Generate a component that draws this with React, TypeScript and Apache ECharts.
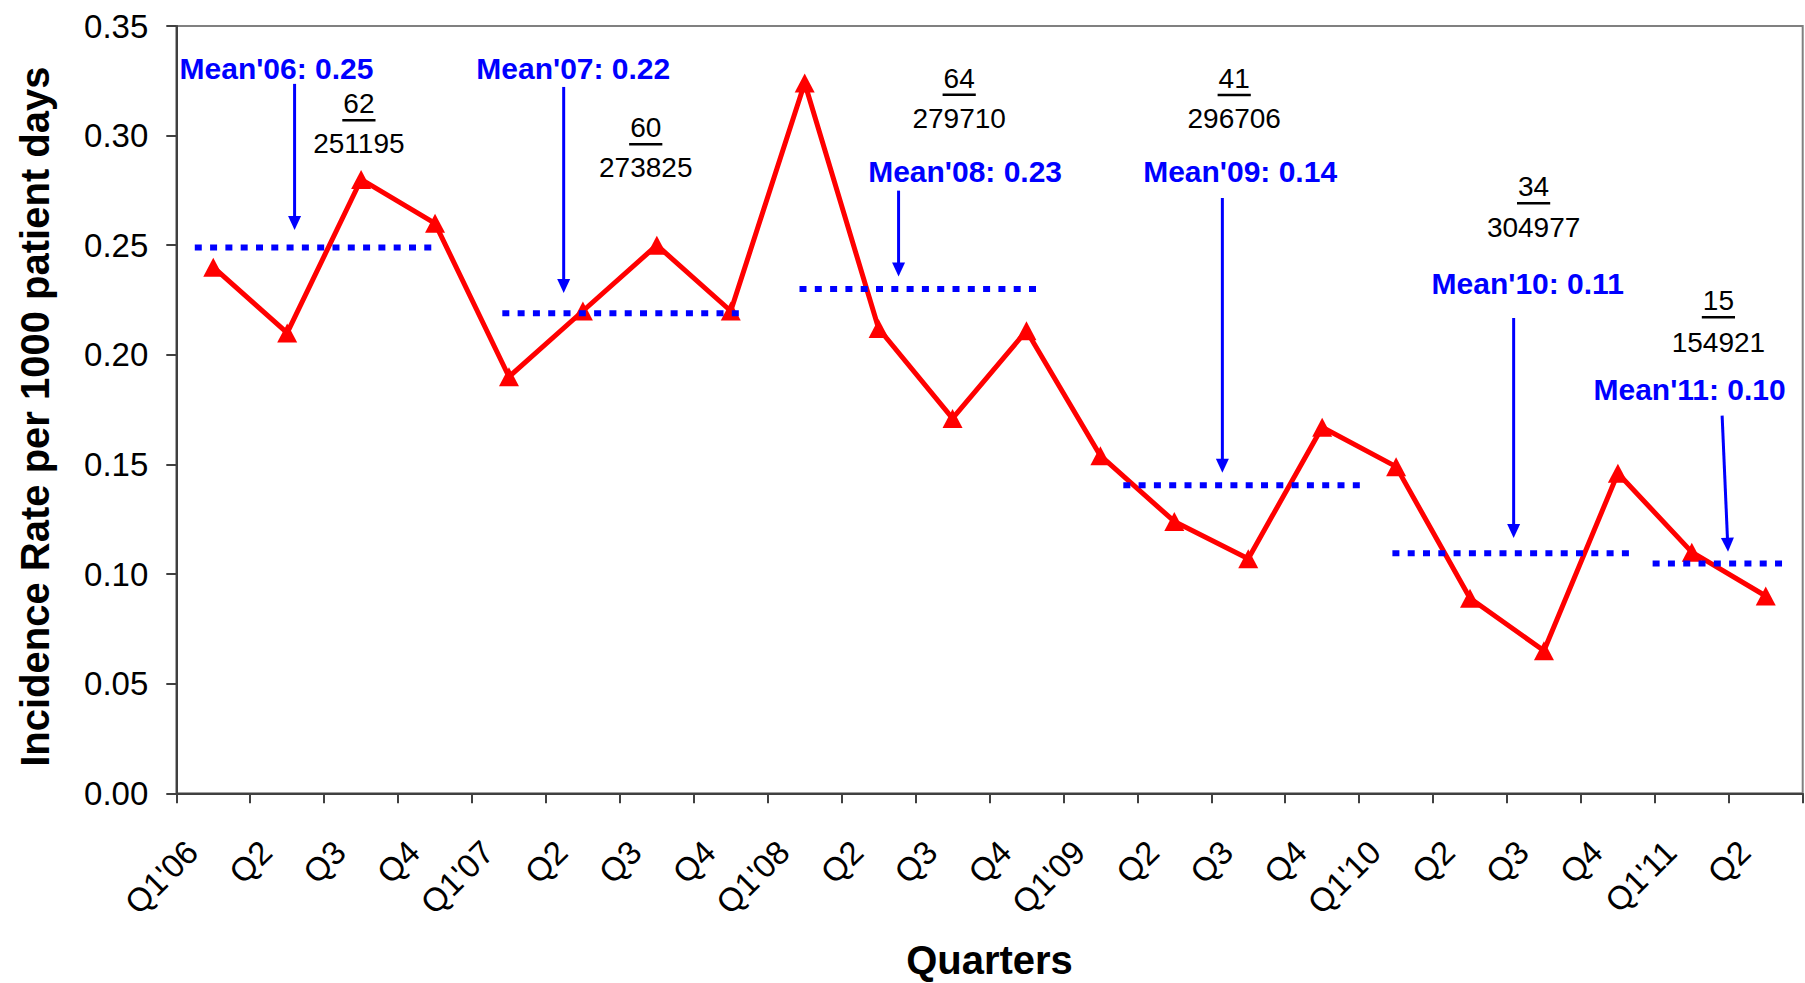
import React, { useEffect, useRef } from "react";
import * as echarts from "echarts";

const categories = ["Q1'06", "Q2", "Q3", "Q4", "Q1'07", "Q2", "Q3", "Q4", "Q1'08", "Q2", "Q3", "Q4", "Q1'09", "Q2", "Q3", "Q4", "Q1'10", "Q2", "Q3", "Q4", "Q1'11", "Q2"];
const rates = [0.24, 0.21, 0.28, 0.26, 0.19, 0.22, 0.25, 0.22, 0.324, 0.212, 0.171, 0.211, 0.154, 0.124, 0.107, 0.167, 0.149, 0.089, 0.065, 0.146, 0.11, 0.09];
const yTicks = [0, 0.05, 0.1, 0.15, 0.2, 0.25, 0.3, 0.35];

// yearly means (line level, shown label value, extent in category-index units)
const meanYears = ["'06", "'07", "'08", "'09", "'10", "'11"];
const meanValues = [0.249, 0.219, 0.23, 0.1405, 0.1095, 0.1048];
const meanShown = ["0.25", "0.22", "0.23", "0.14", "0.11", "0.10"];
const meanStart = [-0.25, 3.91, 7.93, 12.31, 15.95, 19.47];
const meanEnd = [2.99, 7.12, 11.14, 15.52, 19.18, 21.33];

// annotation anchors in data units (x: category index, y: rate)
const meanLabelX = [0.855, 4.87, 10.17, 13.89, 17.78, 19.97];
const meanLabelY = [0.3305, 0.3305, 0.2836, 0.2836, 0.2327, 0.1844];
const arrowX1 = [1.1, 4.74, 9.27, 13.65, 17.59, 20.41];
const arrowY1 = [0.3236, 0.3222, 0.2749, 0.2716, 0.2168, 0.1723];
const arrowX2 = [1.1, 4.74, 9.27, 13.65, 17.59, 20.49];
const arrowY2 = [0.257, 0.2282, 0.2357, 0.1462, 0.1165, 0.1102];

const numerators = [62, 60, 64, 41, 34, 15];
const denominators = [251195, 273825, 279710, 296706, 304977, 154921];
const fracX = [1.97, 5.85, 10.09, 13.81, 17.86, 20.36];
const fracNumY = [0.3145, 0.3036, 0.3262, 0.326, 0.2767, 0.2247];
const fracDenY = [0.2964, 0.2855, 0.3078, 0.3077, 0.2581, 0.2057];

const FONT = '"Liberation Sans", Arial, sans-serif';

export default function App() {
  const ref = useRef<HTMLDivElement>(null);
  useEffect(() => {
    if (!ref.current) return;
    const chart = echarts.init(ref.current, undefined, { renderer: "svg" });
    const meanSeries = meanValues.map((m, i) => ({
      type: "line",
      name: "Mean" + meanYears[i],
      xAxisIndex: 1,
      yAxisIndex: 0,
      data: [
        [meanStart[i], m],
        [meanEnd[i], m],
      ],
      symbol: "none",
      lineStyle: { color: "#0000FF", width: 6, type: [7, 8.3], cap: "butt" },
      silent: true,
      z: 3,
    }));
    chart.setOption({
      animation: false,
      textStyle: { fontFamily: FONT },
      grid: {
        left: 176.3,
        right: 2.3,
        top: 26,
        bottom: 189.7,
        show: true,
        borderColor: "#808080",
        borderWidth: 2,
        containLabel: false,
        outerBoundsMode: "none",
      },
      xAxis: [
        {
          type: "category",
          data: categories,
          boundaryGap: true,
          axisLine: { show: true, onZero: false, lineStyle: { color: "#404040", width: 2 } },
          axisTick: { show: true, length: 10, lineStyle: { color: "#404040", width: 2 } },
          axisLabel: { rotate: 45, fontSize: 33, color: "#000", fontFamily: FONT, margin: 32, padding: [0, 30, 0, 0], interval: 0 },
          splitLine: { show: false },
          name: "Quarters",
          nameLocation: "middle",
          nameGap: 147,
          nameTextStyle: { fontSize: 40, fontWeight: "bold", color: "#000", fontFamily: FONT },
        },
        { type: "value", min: -0.5, max: 21.5, show: false, axisLine: { onZero: false } },
      ],
      yAxis: {
        type: "value",
        min: 0,
        max: 0.35,
        interval: 0.05,
        axisLine: { show: true, onZero: false, lineStyle: { color: "#404040", width: 2 } },
        axisTick: { show: true, length: 10, lineStyle: { color: "#404040", width: 2 } },
        axisLabel: { fontSize: 33, color: "#000", fontFamily: FONT, margin: 28, formatter: (v: number) => (yTicks.some((t) => Math.abs(t - v) < 1e-9) ? v.toFixed(2) : "") },
        splitLine: { show: false },
        name: "Incidence Rate per 1000 patient days",
        nameLocation: "middle",
        nameGap: 121,
        nameTextStyle: { fontSize: 40, fontWeight: "bold", color: "#000", fontFamily: FONT, padding: [0, 14, 0, 0] },
      },
      series: [
        {
          type: "line",
          name: "Rate",
          xAxisIndex: 0,
          yAxisIndex: 0,
          data: rates,
          symbol: "triangle",
          symbolSize: [20, 19],
          itemStyle: { color: "#FF0000" },
          lineStyle: { color: "#FF0000", width: 5 },
          z: 2,
        },
        ...meanSeries,
      ],
    });

    const toPx = (x: number, y: number) => chart.convertToPixel({ seriesIndex: 1 }, [x, y]) as number[];
    const graphics: any[] = [];
    meanYears.forEach((yr, i) => {
      const p = toPx(meanLabelX[i], meanLabelY[i]);
      graphics.push({
        type: "text",
        x: p[0],
        y: p[1],
        z: 10,
        style: { text: "Mean" + yr + ": " + meanShown[i], fill: "#0000FF", font: "bold 30px " + FONT, align: "center", verticalAlign: "middle", textAlign: "center", textVerticalAlign: "middle" },
      });
      const a = toPx(arrowX1[i], arrowY1[i]);
      const b = toPx(arrowX2[i], arrowY2[i]);
      const dx = b[0] - a[0];
      const dy = b[1] - a[1];
      const len = Math.hypot(dx, dy);
      const ux = dx / len;
      const uy = dy / len;
      const L = 14;
      const W = 6.5;
      graphics.push({
        type: "line",
        z: 10,
        shape: { x1: a[0], y1: a[1], x2: b[0] - ux * L * 0.6, y2: b[1] - uy * L * 0.6 },
        style: { stroke: "#0000FF", lineWidth: 3 },
      });
      graphics.push({
        type: "polygon",
        z: 10,
        shape: {
          points: [
            [b[0], b[1]],
            [b[0] - ux * L - uy * W, b[1] - uy * L + ux * W],
            [b[0] - ux * L + uy * W, b[1] - uy * L - ux * W],
          ],
        },
        style: { fill: "#0000FF" },
      });
      const n = toPx(fracX[i], fracNumY[i]);
      const d = toPx(fracX[i], fracDenY[i]);
      const numText = String(numerators[i]);
      graphics.push({
        type: "text",
        x: n[0],
        y: n[1],
        z: 10,
        style: { text: numText, fill: "#000", font: "28px " + FONT, align: "center", verticalAlign: "middle", textAlign: "center", textVerticalAlign: "middle" },
      });
      const uw = numText.length * 15.6 + 2;
      graphics.push({
        type: "line",
        z: 10,
        shape: { x1: n[0] - uw / 2, y1: n[1] + 16.5, x2: n[0] + uw / 2, y2: n[1] + 16.5 },
        style: { stroke: "#000", lineWidth: 2.5 },
      });
      graphics.push({
        type: "text",
        x: d[0],
        y: d[1],
        z: 10,
        style: { text: String(denominators[i]), fill: "#000", font: "28px " + FONT, align: "center", verticalAlign: "middle", textAlign: "center", textVerticalAlign: "middle" },
      });
    });
    chart.setOption({ graphic: graphics });
    return () => chart.dispose();
  }, []);
  return <div ref={ref} style={{ position: "absolute", left: 0, top: 0, width: 1805, height: 983, background: "#fff" }} />;
}
